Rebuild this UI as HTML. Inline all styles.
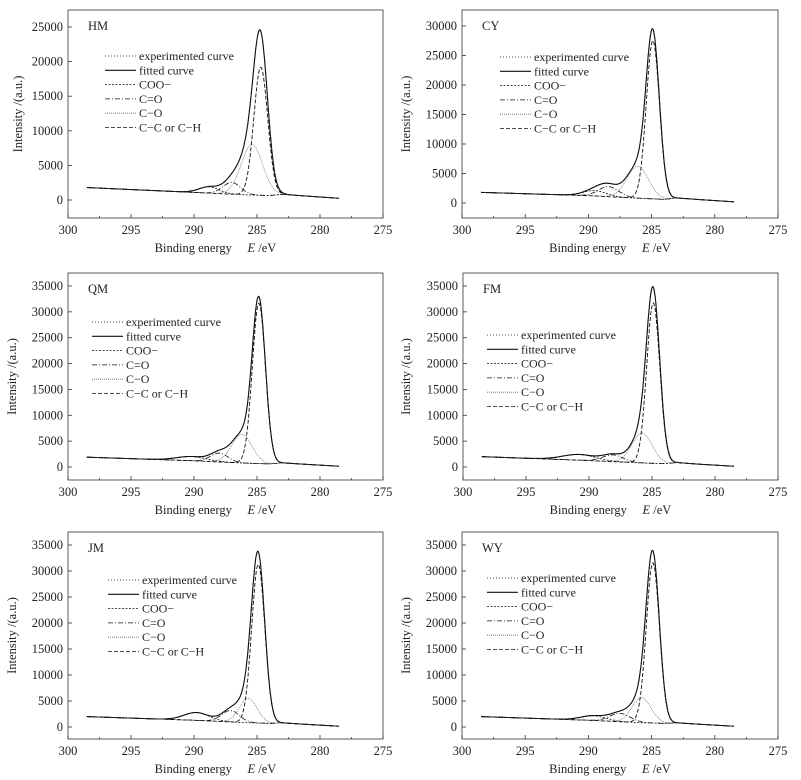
<!DOCTYPE html>
<html><head><meta charset="utf-8">
<style>
html,body{margin:0;padding:0;background:#fff;}
svg{display:block;font-family:"Liberation Serif",serif;}
</style></head>
<body>
<svg id="fig" width="801" height="780" viewBox="0 0 801 780" xmlns="http://www.w3.org/2000/svg"></svg>
<script>
// ---- data ----
const xTicks = [300, 295, 290, 285, 280, 275];
const yTicks25 = [0, 5000, 10000, 15000, 20000, 25000];
const yTicks30 = [0, 5000, 10000, 15000, 20000, 25000, 30000];
const yTicks35 = [0, 5000, 10000, 15000, 20000, 25000, 30000, 35000];
const legendLabels = ["experimented curve", "fitted curve", "COO\u2212", "C=O", "C\u2212O", "C\u2212C or C\u2212H"];
const baseX = [298.5, 290, 286, 284, 283, 281, 278.5];
// baselines
const hmBase = [1800, 1100, 750, 650, 820, 560, 250];
const cyBase = [1800, 1250, 800, 620, 850, 550, 200];
const qmBase = [1900, 1200, 750, 600, 800, 500, 150];
const fmBase = [2000, 1250, 800, 650, 850, 500, 150];
const jmBase = [2000, 1300, 850, 700, 800, 500, 150];
const wyBase = [2000, 1300, 850, 700, 800, 500, 150];
// components: COO-, C=O, C-O, C-C
const hmCenters = [288.8, 287.0, 285.4, 284.7];
const hmHeights = [900, 1700, 7300, 18500];
const hmWidths = [0.8, 0.7, 0.85, 0.55];
const cyCenters = [289.5, 288.4, 286.1, 284.9];
const cyHeights = [900, 1700, 5400, 26800];
const cyWidths = [0.9, 0.8, 0.85, 0.52];
const qmCenters = [290.2, 288.0, 286.2, 284.85];
const qmHeights = [800, 1700, 5500, 31000];
const qmWidths = [1.2, 0.7, 0.8, 0.52];
const fmCenters = [290.8, 288.1, 285.8, 284.9];
const fmHeights = [1100, 1300, 5800, 31000];
const fmWidths = [1.3, 0.8, 0.8, 0.52];
const jmCenters = [289.8, 287.1, 285.7, 284.9];
const jmHeights = [1500, 2200, 4700, 30500];
const jmWidths = [1.0, 0.7, 0.7, 0.52];
const wyCenters = [289.6, 287.5, 285.8, 284.9];
const wyHeights = [900, 1600, 4800, 30800];
const wyWidths = [1.0, 0.8, 0.75, 0.52];

// ---- layout ----
const panels = [
 {name:"HM", x0:68, x1:383, top:10, bot:218, yMaxV:25000, yMaxP:27, y0P:200, ticks:yTicks25, base:hmBase, c:hmCenters, h:hmHeights, w:hmWidths, lgX:105, lgY:60, ytx:22},
 {name:"CY", x0:462, x1:778, top:10, bot:218, yMaxV:30000, yMaxP:26, y0P:203, ticks:yTicks30, base:cyBase, c:cyCenters, h:cyHeights, w:cyWidths, lgX:500, lgY:61, ytx:410},
 {name:"QM", x0:68, x1:383, top:273, bot:480, yMaxV:35000, yMaxP:286, y0P:467, ticks:yTicks35, base:qmBase, c:qmCenters, h:qmHeights, w:qmWidths, lgX:92, lgY:326, ytx:16},
 {name:"FM", x0:463, x1:778, top:273, bot:480, yMaxV:35000, yMaxP:286, y0P:467, ticks:yTicks35, base:fmBase, c:fmCenters, h:fmHeights, w:fmWidths, lgX:487, lgY:339, ytx:410},
 {name:"JM", x0:68, x1:383, top:532, bot:739, yMaxV:35000, yMaxP:545, y0P:727, ticks:yTicks35, base:jmBase, c:jmCenters, h:jmHeights, w:jmWidths, lgX:108, lgY:584, ytx:16},
 {name:"WY", x0:462, x1:778, top:532, bot:739, yMaxV:35000, yMaxP:545, y0P:727, ticks:yTicks35, base:wyBase, c:wyCenters, h:wyHeights, w:wyWidths, lgX:487, lgY:582, ytx:410}
];
const dashes = ["1,2", null, "2,1.5", "5,2,1,2", "1,1", "4,2"];
const svg = document.getElementById('fig');
const NS = "http://www.w3.org/2000/svg";
function mk(tag, attrs, parent){const e=document.createElementNS(NS,tag);for(const k in attrs)e.setAttribute(k,attrs[k]);(parent||svg).appendChild(e);return e;}
function interp(xs, ys, x){
  if(x>=xs[0])return ys[0];
  for(let i=0;i<xs.length-1;i++){ if(x<=xs[i]&&x>=xs[i+1]){const t=(xs[i]-x)/(xs[i]-xs[i+1]);return ys[i]+t*(ys[i+1]-ys[i]);} }
  return ys[ys.length-1];
}
panels.forEach(p=>{
  const g = mk('g',{});
  
  
  const sx = v => p.x0 + (300 - v)/25*(p.x1-p.x0);
  const sy = v => p.y0P - v/p.yMaxV*(p.y0P-p.yMaxP);
  const fr = mk('rect',{x:p.x0,y:p.top,width:p.x1-p.x0,height:p.bot-p.top,fill:'none',stroke:'#333','stroke-width':0.8},g);
  
  
  xTicks.forEach(t=>{
    const x=sx(t);
    mk('line',{x1:x,x2:x,y1:p.bot,y2:p.bot-4,stroke:'#333','stroke-width':0.8},g);
    const tx=mk('text',{x:x,y:p.bot+16,'font-size':12.5,'text-anchor':'middle',fill:'#222'},g);
    tx.textContent=t;
    
    
  });
  for(let t=297.5;t>275;t-=5){const x=sx(t);mk('line',{x1:x,x2:x,y1:p.bot,y2:p.bot-2,stroke:'#333','stroke-width':0.7},g);}
  p.ticks.forEach(t=>{
    const y=sy(t);
    mk('line',{x1:p.x0,x2:p.x0+4,y1:y,y2:y,stroke:'#333','stroke-width':0.8},g);
    const tx=mk('text',{x:p.x0-5,y:y+4,'font-size':12.5,'text-anchor':'end',fill:'#222'},g);
    tx.textContent=t;
    
    
  });
  const xt=mk('text',{x:(p.x0+p.x1)/2-10,y:p.bot+34,'font-size':12.5,'text-anchor':'middle',fill:'#222'},g);
  xt.innerHTML='Binding energy &#160;&#160;&#160; <tspan font-style="italic">E</tspan> /eV';
  
  
  const cy=(p.top+p.bot)/2;
  const yt=mk('text',{x:p.ytx,y:cy,'font-size':12.5,'text-anchor':'middle',fill:'#222',transform:'rotate(-90 '+p.ytx+' '+cy+')'},g);
  yt.textContent='Intensity /(a.u.)';
  
  
  const lab=mk('text',{x:p.x0+20,y:p.top+20,'font-size':12.5,fill:'#222'},g);
  lab.textContent=p.name;
  
  
  const xs=[]; for(let x=298.5;x>=278.5-1e-9;x-=0.05) xs.push(x);
  const comp=(i,x)=>p.h[i]*Math.exp(-0.5*Math.pow((x-p.c[i])/p.w[i],2));
  const path=f=>xs.map((x,k)=>(k?'L':'M')+sx(x).toFixed(1)+','+sy(f(x)).toFixed(1)).join('');
  const total=x=>interp(baseX,p.base,x)+p.c.reduce((s,_,i)=>s+comp(i,x),0);
  const series=[
    {n:'experimented-curve', d:path(total), dash:dashes[0], sw:1},
    {n:'fitted-curve', d:path(total), dash:null, sw:1.1},
    {n:'coo-component', d:path(x=>interp(baseX,p.base,x)+comp(0,x)), dash:dashes[2], sw:0.8},
    {n:'c-double-o-component', d:path(x=>interp(baseX,p.base,x)+comp(1,x)), dash:dashes[3], sw:0.8},
    {n:'c-o-component', d:path(x=>interp(baseX,p.base,x)+comp(2,x)), dash:dashes[4], sw:0.7},
    {n:'cc-ch-component', d:path(x=>interp(baseX,p.base,x)+comp(3,x)), dash:dashes[5], sw:0.9}
  ];
  series.forEach(s=>{
    const a={d:s.d,fill:'none',stroke:s.n==='c-o-component'?'#666':'#111','stroke-width':s.sw};
    if(s.dash)a['stroke-dasharray']=s.dash;
    const e=mk('path',a,g);
    
    
  });
  legendLabels.forEach((l,i)=>{
    const y=p.lgY+i*14.3;
    const a={x1:p.lgX,x2:p.lgX+31,y1:y-4,y2:y-4,stroke:i===4?'#666':'#111','stroke-width':i===1?1.1:0.8};
    if(dashes[i])a['stroke-dasharray']=dashes[i];
    mk('line',a,g);
    const t=mk('text',{x:p.lgX+34,y:y,'font-size':12,fill:'#222'},g);
    t.textContent=l;
    
    
  });
});
</script>
</body></html>
